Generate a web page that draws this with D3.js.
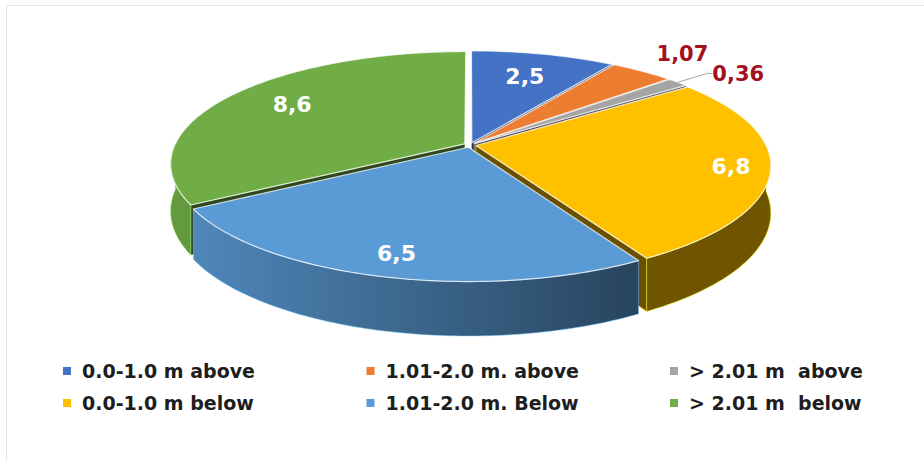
<!DOCTYPE html>
<html>
<head>
<meta charset="utf-8">
<script src="https://cdn.jsdelivr.net/npm/d3@7/dist/d3.min.js"></script>
<style>
  body { margin: 0; background: #fff; }
  svg { display: block; }
  text { white-space: pre; }
</style>
</head>
<body>
<svg id="chart"></svg>
<script>
// chart data
const categories = ["0.0-1.0 m above", "1.01-2.0 m. above", "> 2.01 m  above",
                    "0.0-1.0 m below", "1.01-2.0 m. Below", "> 2.01 m  below"];
const values = [2.5, 1.07, 0.36, 6.8, 6.5, 8.6];
const valueLabels = ["2,5", "1,07", "0,36", "6,8", "6,5", "8,6"];
const colors = ["#4472C4", "#ED7D31", "#A5A5A5", "#FFC000", "#5B9BD5", "#70AD47"];

// layout
const width = 924, height = 461;
const geo = {cx: 470, cy: 145, R: 290, k: 0.39, persp: 0.18, depth: 46, explode: 6};
const labelCfg = [
  {r: 0.70, inside: true},
  {r: 1.30, inside: false},
  {r: 1.20, inside: false, leader: true},
  {r: 0.87, inside: true},
  {r: 0.84, inside: true},
  {r: 0.74, inside: true}
];

const svg = d3.select("#chart")
  .attr("width", width)
  .attr("height", height);

// faint frame of the chart area
svg.append("path")
  .attr("d", `M6.5,${height}V5.5H${width}`)
  .attr("fill", "none")
  .attr("stroke", "#e4e4e4");

// disc plane (X right, Z toward viewer) -> screen, simple perspective
function proj(X, Z, down) {
  const p = 1 + geo.persp * Z / geo.R;
  return [geo.cx + X * p, geo.cy + (Z * geo.k + down) * p];
}
function discPt(angle, r, off) {
  return [off[0] + r * Math.sin(angle), off[1] - r * Math.cos(angle)];
}
function arcPts(a0, a1, off, down) {
  const n = Math.max(2, Math.ceil((a1 - a0) / (Math.PI / 180)));
  return d3.range(n + 1).map(i => {
    const a = a0 + (a1 - a0) * i / n;
    const q = discPt(a, geo.R, off);
    return proj(q[0], q[1], down);
  });
}
const line = pts => "M" + pts.map(p => p[0].toFixed(2) + "," + p[1].toFixed(2)).join("L") + "Z";

const pie = d3.pie().sort(null).value(d => d)
  .startAngle(0).endAngle(2 * Math.PI);
const arcs = pie(values).map((d, i) => {
  const mid = (d.startAngle + d.endAngle) / 2;
  return {
    ...d, i, mid,
    off: [geo.explode * Math.sin(mid), -geo.explode * Math.cos(mid)]
  };
});

const defs = svg.append("defs");
arcs.forEach(d => {
  const c = d3.color(colors[d.i]);
  const g = defs.append("linearGradient")
    .attr("id", "wall" + d.i)
    .attr("gradientUnits", "userSpaceOnUse")
    .attr("x1", 180).attr("x2", 640).attr("y1", 0).attr("y2", 0);
  g.append("stop").attr("offset", 0).attr("stop-color", c.darker(0.35));
  g.append("stop").attr("offset", 1).attr("stop-color", c.darker(2.3));
});

const pieG = svg.append("g");

// cut faces that face the viewer
const cuts = [];
arcs.forEach(d => {
  if (Math.sin(d.startAngle) < -1e-6) cuts.push({d, a: d.startAngle});
  if (Math.sin(d.endAngle) > 1e-6) cuts.push({d, a: d.endAngle});
});
pieG.selectAll(".cut")
  .data(cuts)
  .join("path")
    .attr("class", "cut")
    .attr("d", c => {
      const o = c.d.off, rim = discPt(c.a, geo.R, o);
      return line([proj(o[0], o[1], 0), proj(rim[0], rim[1], 0),
                   proj(rim[0], rim[1], geo.depth), proj(o[0], o[1], geo.depth)]);
    })
    .attr("fill", c => d3.color(colors[c.d.i]).darker(2.5))
    .attr("stroke", c => d3.color(colors[c.d.i]).brighter(0.6))
    .attr("stroke-opacity", 0.6)
    .attr("stroke-width", 0.8);

// outer walls (front half only)
const walls = arcs.filter(d => Math.min(d.endAngle, 1.5 * Math.PI) > Math.max(d.startAngle, 0.5 * Math.PI));
pieG.selectAll(".wall")
  .data(walls)
  .join("path")
    .attr("class", "wall")
    .attr("d", d => {
      const a0 = Math.max(d.startAngle, 0.5 * Math.PI);
      const a1 = Math.min(d.endAngle, 1.5 * Math.PI);
      const topPts = arcPts(a0, a1, d.off, 0);
      const botPts = arcPts(a0, a1, d.off, geo.depth).reverse();
      return line(topPts.concat(botPts));
    })
    .attr("fill", d => `url(#wall${d.i})`)
    .attr("stroke", d => d3.color(colors[d.i]).brighter(0.8))
    .attr("stroke-opacity", 0.6)
    .attr("stroke-width", 0.8);

// top faces
pieG.selectAll(".top")
  .data(arcs)
  .join("path")
    .attr("class", "top")
    .attr("d", d => line([proj(d.off[0], d.off[1], 0)]
      .concat(arcPts(d.startAngle, d.endAngle, d.off, 0))))
    .attr("fill", d => colors[d.i])
    .attr("stroke", "#fff")
    .attr("stroke-opacity", 0.75)
    .attr("stroke-width", 1.2)
    .attr("stroke-linejoin", "round");

// value labels
const labG = svg.append("g")
  .attr("font-family", "'DejaVu Sans', sans-serif")
  .attr("font-weight", "bold");

arcs.forEach(d => {
  const cfg = labelCfg[d.i];
  const q = discPt(d.mid, cfg.r * geo.R, d.off);
  const p = proj(q[0], q[1], 0);
  if (cfg.leader) {
    const q0 = discPt(d.mid, geo.R, d.off);
    const q1 = discPt(d.mid, (cfg.r - 0.03) * geo.R, d.off);
    const p0 = proj(q0[0], q0[1], 0), p1 = proj(q1[0], q1[1], 0);
    labG.append("path")
      .attr("d", `M${p0[0]},${p0[1]}L${p1[0]},${p1[1]}L${p[0]},${p1[1]}`)
      .attr("fill", "none")
      .attr("stroke", "#a6a6a6")
      .attr("stroke-width", 1);
  }
  labG.append("text")
    .attr("x", p[0])
    .attr("y", cfg.leader ? p[1] + 2 : p[1])
    .attr("text-anchor", cfg.leader ? "start" : "middle")
    .attr("dominant-baseline", "central")
    .attr("font-size", cfg.inside ? 22 : 21)
    .attr("fill", cfg.inside ? "#ffffff" : "#A3101E")
    .text(valueLabels[d.i]);
});

// legend
const legend = svg.append("g")
  .attr("font-family", "'DejaVu Sans', sans-serif")
  .attr("font-weight", "bold")
  .attr("font-size", 19)
  .attr("fill", "#1e1e1e");

const items = legend.selectAll("g")
  .data(categories)
  .join("g")
    .attr("transform", (d, i) => `translate(${63 + (i % 3) * 303.5},${371 + Math.floor(i / 3) * 32})`);

items.append("rect")
  .attr("x", 0).attr("y", -4)
  .attr("width", 8).attr("height", 8)
  .attr("fill", (d, i) => colors[i]);

items.append("text")
  .attr("x", 19)
  .attr("dominant-baseline", "central")
  .text(d => d);
</script>
</body>
</html>
